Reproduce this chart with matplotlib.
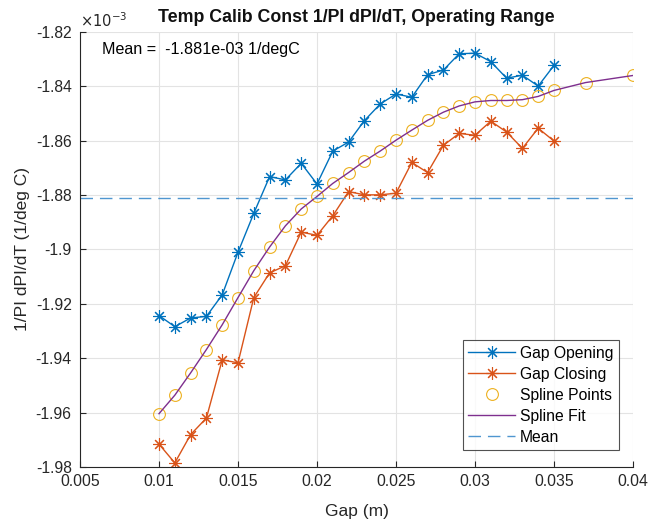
import numpy as np
import matplotlib
matplotlib.use('Agg')
import matplotlib.pyplot as plt
from matplotlib.ticker import FuncFormatter

plt.rcParams['font.family'] = ['Liberation Sans', 'DejaVu Sans']

# gap positions (m)
gap = [0.010, 0.011, 0.012, 0.013, 0.014, 0.015, 0.016, 0.017, 0.018, 0.019,
       0.020, 0.021, 0.022, 0.023, 0.024, 0.025, 0.026, 0.027, 0.028, 0.029,
       0.030, 0.031, 0.032, 0.033, 0.034, 0.035]
# values in units of 1e-3 1/degC
gap_opening = [-1.9243, -1.9284, -1.9252, -1.9246, -1.9167, -1.9010, -1.8867, -1.8732,
               -1.8744, -1.8683, -1.8759, -1.8638, -1.8605, -1.8526, -1.8465, -1.8428,
               -1.8440, -1.8357, -1.8340, -1.8280, -1.8278, -1.8309, -1.8370, -1.8359,
               -1.8399, -1.8323]
gap_closing = [-1.9716, -1.9785, -1.9681, -1.9620, -1.9406, -1.9417, -1.9177, -1.9086,
               -1.9060, -1.8936, -1.8948, -1.8876, -1.8787, -1.8799, -1.8799, -1.8793,
               -1.8680, -1.8717, -1.8617, -1.8573, -1.8580, -1.8528, -1.8568, -1.8628,
               -1.8554, -1.8601]
spline_x = gap + [0.037, 0.040]
spline_y = [-1.9604, -1.9536, -1.9454, -1.9368, -1.9277, -1.9177, -1.9078, -1.8991,
            -1.8913, -1.8851, -1.8805, -1.8757, -1.8717, -1.8675, -1.8638, -1.8598,
            -1.8561, -1.8525, -1.8495, -1.8472, -1.8457, -1.8452, -1.8452, -1.8449,
            -1.8437, -1.8415, -1.8386, -1.8360]
mean_val = -1.881

fig = plt.figure(figsize=(6.49, 5.27), dpi=100)
ax = fig.add_axes([0.1233, 0.1139, 0.852, 0.8254])

star = (8, 2, 0)  # asterisk like MATLAB '*'
ax.plot(gap, gap_opening, '-', marker=star, color='#0072BD', lw=1, ms=9, mew=0.8, label='Gap Opening')
ax.plot(gap, gap_closing, '-', marker=star, color='#D95319', lw=1, ms=9, mew=0.8, label='Gap Closing')
ax.plot(spline_x, spline_y, 'o', color='#EDB120', mfc='none', ms=8.5, mew=0.8, label='Spline Points')
ax.plot(spline_x, spline_y, '-', color='#7E2F8E', lw=1, label='Spline Fit')
ax.axhline(mean_val, color='#4F96D0', ls=(0, (9, 5)), lw=1, label='Mean')

ax.set_xlim(0.005, 0.04)
ax.set_ylim(-1.98, -1.82)
ax.set_xticks(np.arange(0.005, 0.0401, 0.005))
ax.set_yticks(np.arange(-1.98, -1.8199, 0.02))
fmt = FuncFormatter(lambda v, p: f'{round(v, 4):g}')
ax.xaxis.set_major_formatter(fmt)
ax.yaxis.set_major_formatter(fmt)
ax.grid(True, color='#e3e3e3', lw=0.8)
ax.set_axisbelow(True)
for s in ['top', 'right']:
    ax.spines[s].set_visible(False)
for s in ['left', 'bottom']:
    ax.spines[s].set_color('#262626')
ax.tick_params(direction='in', length=4, colors='#262626', labelsize=11.3)
ax.tick_params(axis='y', pad=6)
ax.tick_params(axis='x', pad=5)

ax.set_xlabel('Gap (m)', fontsize=12.5, color='#262626', labelpad=11)
ax.set_ylabel('1/PI dPI/dT (1/deg C)', fontsize=12.5, color='#262626', labelpad=4)
ax.set_title('Temp Calib Const 1/PI dPI/dT, Operating Range', fontsize=12.8,
             fontweight='bold', color='#111111', pad=7)
ax.text(0.0, 1.005, r'$\times 10^{-3}$', transform=ax.transAxes, fontsize=10.5,
        color='#262626', va='bottom', ha='left')
ax.text(0.0064, -1.8263, 'Mean =  -1.881e-03 1/degC', fontsize=11.6, color='#000000',
        va='center')

leg = ax.legend(loc='lower right', bbox_to_anchor=(0.975, 0.039), borderaxespad=0,
                fontsize=11.3, frameon=True, fancybox=False, edgecolor='#262626',
                handlelength=3.0, borderpad=0.35, labelspacing=0.38, handletextpad=0.3)
leg.get_frame().set_linewidth(0.8)

fig.savefig('out.png', dpi=100)
